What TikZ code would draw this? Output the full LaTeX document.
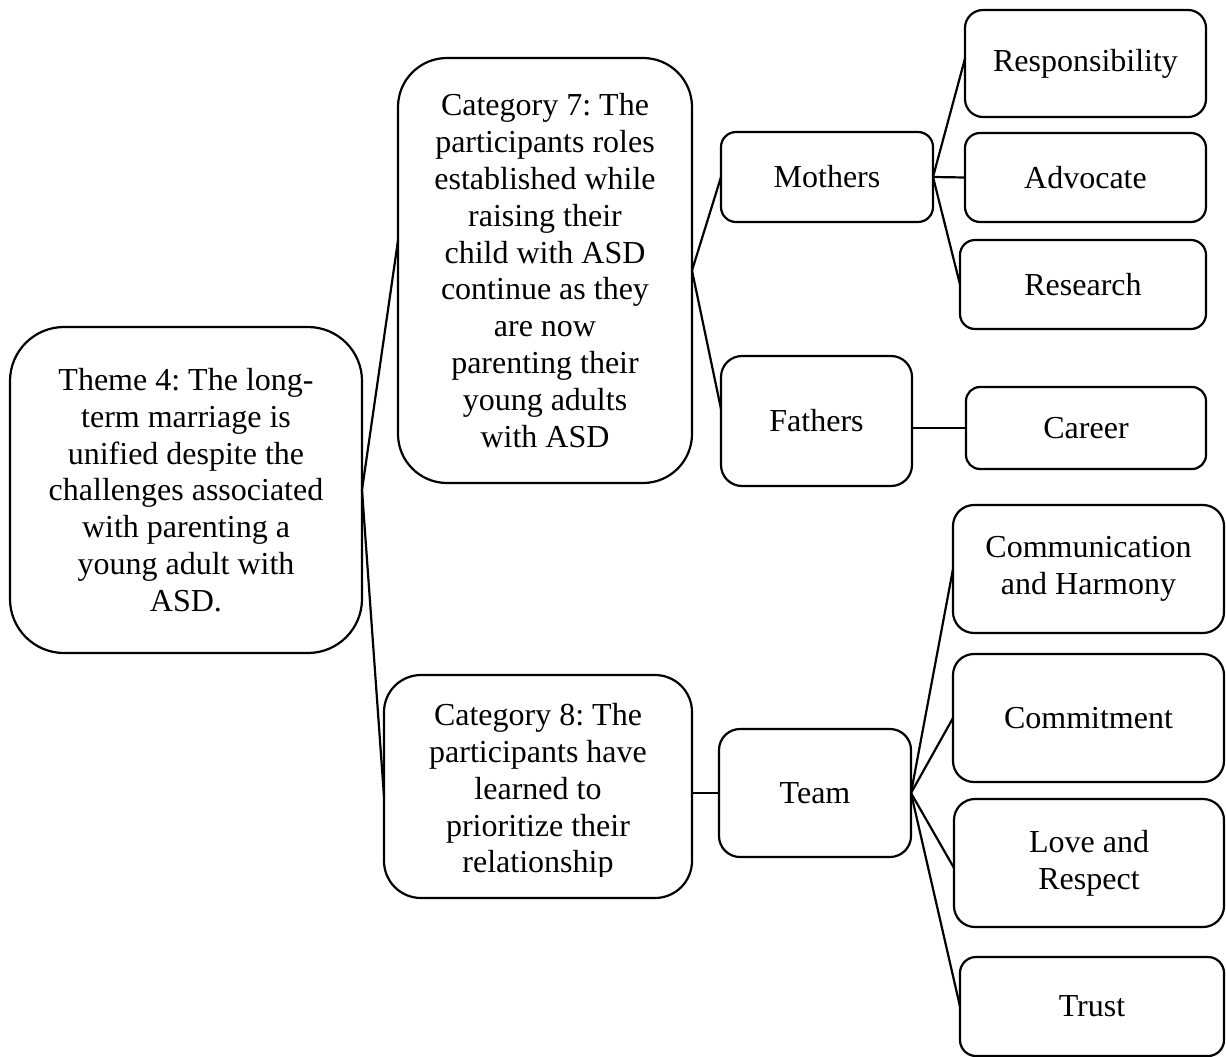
\documentclass[tikz,border=0pt]{standalone}
\usepackage{fontspec}
\setmainfont{Liberation Serif}
\frenchspacing
\begin{document}
\begin{tikzpicture}[x=1pt,y=-1pt,
  box/.style={draw, line width=2.2pt, inner sep=0pt, outer sep=0pt, align=center,
    font=\fontsize{32}{36.8}\selectfont},
  link/.style={line width=2.2pt}]
\useasboundingbox (0,0) rectangle (1226,1057);
% level 0
\node[box, minimum width=352pt, minimum height=326pt, rounded corners=54pt] (theme) at (186,490)
  {Theme 4: The long-\\term marriage is\\unified despite the\\challenges associated\\with parenting a\\young adult with\\ASD.};
% level 1
\node[box, minimum width=294pt, minimum height=425pt, rounded corners=49pt] (cat7) at (545,270.5)
  {Category 7: The\\participants roles\\established while\\raising their\\child with ASD\\continue as they\\are now\\parenting their\\young adults\\with ASD};
\node[box, minimum width=308pt, minimum height=223pt, rounded corners=37pt] (cat8) at (538,786.5) {};
\begin{scope}
  \clip (384,660) rectangle (692,876);
  \node[box, draw=none] (cat8t) at (538,791.5)
    {Category 8: The\\participants have\\learned to\\prioritize their\\relationship};
\end{scope}
% level 2
\node[box, minimum width=212pt, minimum height=90pt, rounded corners=15pt] (mothers) at (827,177) {Mothers};
\node[box, minimum width=191pt, minimum height=130pt, rounded corners=21pt] (fathers) at (816.5,421) {Fathers};
\node[box, minimum width=192pt, minimum height=128pt, rounded corners=21pt] (team) at (815,793) {Team};
% level 3
\node[box, minimum width=241pt, minimum height=107pt, rounded corners=18pt] (resp) at (1085.5,63.5) {Responsibility};
\node[box, minimum width=241pt, minimum height=89pt, rounded corners=15pt] (advoc) at (1085.5,177.5) {Advocate};
\node[box, minimum width=246pt, minimum height=89pt, rounded corners=15pt] (research) at (1083,284.5) {Research};
\node[box, minimum width=240pt, minimum height=82pt, rounded corners=14pt] (career) at (1086,428) {Career};
\node[box, minimum width=271pt, minimum height=128pt, rounded corners=21pt] (comm) at (1088.5,569) {Communication\\and Harmony};
\node[box, minimum width=271pt, minimum height=128pt, rounded corners=21pt] (commit) at (1088.5,718) {Commitment};
\node[box, minimum width=270pt, minimum height=128pt, rounded corners=21pt] (love) at (1089,863) {Love and\\Respect};
\node[box, minimum width=264pt, minimum height=99pt, rounded corners=16pt] (trust) at (1092,1006.5) {Trust};
% connectors
\draw[link] (theme.east) -- ([yshift=30pt]cat7.west);
\draw[link] (theme.east) -- ([yshift=-10pt]cat8.west);
\draw[link] (cat7.east) -- (mothers.west);
\draw[link] (cat7.east) -- ([yshift=12pt]fathers.west);
\draw[link] (mothers.east) -- ([yshift=5pt]resp.west);
\draw[link] (mothers.east) -- (advoc.west);
\draw[link] (mothers.east) -- (research.west);
\draw[link] (fathers.east |- career.west) -- (career.west);
\draw[link] (cat8.east |- team.west) -- (team.west);
\draw[link] (team.east) -- (comm.west);
\draw[link] (team.east) -- (commit.west);
\draw[link] (team.east) -- ([yshift=-5pt]love.west);
\draw[link] (team.east) -- (trust.west);
\end{tikzpicture}
\end{document}
